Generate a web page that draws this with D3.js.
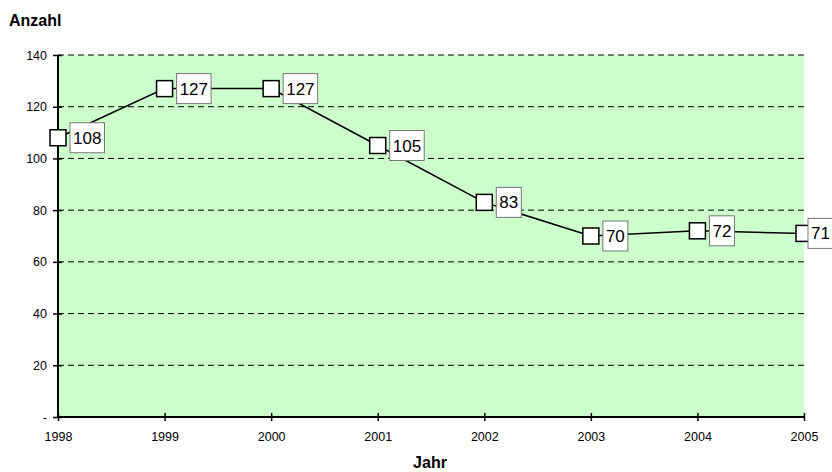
<!DOCTYPE html>
<html><head><meta charset="utf-8">
<script src="https://cdn.jsdelivr.net/npm/d3@7"></script>
<style>body{margin:0;background:#fff}text{font-family:Arial,"Liberation Sans",sans-serif}</style>
</head><body><svg id="c" width="832" height="472"></svg>
<script>
const years = ["1998","1999","2000","2001","2002","2003","2004","2005"];
const values = [108,127,127,105,83,70,72,71];
const yTicks = [0,20,40,60,80,100,120,140];
const yLabel = "Anzahl", xLabel = "Jahr";

const svg = d3.select("#c");
const W=832,L=58,R=804,T=55,B=417;
const x = d3.scalePoint().domain(years).range([L,R]);
const y = d3.scaleLinear().domain([0,140]).range([B,T]);

svg.append("rect").attr("x",L).attr("y",T).attr("width",R-L).attr("height",B-T).attr("fill","#CCFFCC");
svg.selectAll(".g").data(yTicks.filter(d=>d>0)).join("line")
  .attr("x1",L).attr("x2",R).attr("y1",d=>y(d)).attr("y2",d=>y(d))
  .attr("stroke","#000").attr("stroke-dasharray","6,4").attr("stroke-width",1);

const ya = svg.append("g").attr("transform",`translate(${L},0)`)
  .call(d3.axisLeft(y).tickValues(yTicks).tickSize(5).tickPadding(6).tickFormat(d=>d===0?"-":d));
ya.selectAll(".tick line").attr("x2",4).attr("x1",-5);
const xa = svg.append("g").attr("transform",`translate(0,${B})`)
  .call(d3.axisBottom(x).tickSize(4).tickPadding(11));
xa.selectAll(".tick line").attr("y1",-4).attr("y2",4);
[ya,xa].forEach(a=>{a.select(".domain").attr("stroke","#000").attr("stroke-width",2);
  a.selectAll("text").attr("font-size",12.5).attr("fill","#000").attr("font-family","Arial, 'Liberation Sans', sans-serif");
  a.selectAll(".tick line").attr("stroke","#000").attr("stroke-width",1.5);});
xa.select(".domain").attr("d",`M${L},0H${R}`);
ya.select(".domain").attr("d",`M0,${T}V${B}`);

svg.append("path").datum(values).attr("fill","none").attr("stroke","#000").attr("stroke-width",1.5)
  .attr("d",d3.line().x((d,i)=>x(years[i])).y(d=>y(d)));

const pts = svg.selectAll(".p").data(values).join("g")
  .attr("transform",(d,i)=>`translate(${x(years[i])},${y(d)})`);
pts.append("rect").attr("x",-8).attr("y",-8).attr("width",16).attr("height",16)
  .attr("fill","#fff").attr("stroke","#000").attr("stroke-width",1.5);
pts.each(function(d,i){
  const g=d3.select(this);
  const cx=x(years[i]);
  const s=String(d); const w=s.length*9.5+6;
  const bx=Math.min(12, W+1-w-cx);
  g.append("rect").attr("x",bx).attr("y",-15).attr("width",w).attr("height",30)
    .attr("fill","#fff").attr("stroke","#777").attr("stroke-width",1);
  g.append("text").attr("x",bx+w/2).attr("y",6).attr("text-anchor","middle")
    .attr("font-size",17).attr("fill","#000").text(s);
});

svg.append("text").attr("x",9).attr("y",26).attr("font-size",16).attr("font-weight","bold").text(yLabel);
svg.append("text").attr("x",430).attr("y",468).attr("text-anchor","middle").attr("font-size",16).attr("font-weight","bold").text(xLabel);
</script></body></html>
